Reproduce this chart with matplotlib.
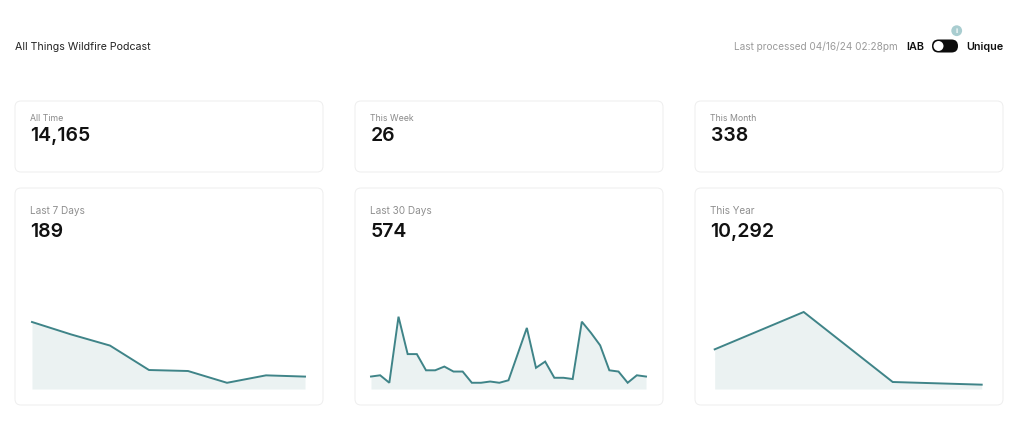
import matplotlib
matplotlib.use('Agg')
import matplotlib.pyplot as plt
from matplotlib.patches import FancyBboxPatch, Circle

plt.rcParams['font.family'] = ['Inter', 'DejaVu Sans']

# Dados
top_labels = ['All Time', 'This Week', 'This Month']
top_values = ['14,165', '26', '338']
chart_labels = ['Last 7 Days', 'Last 30 Days', 'This Year']
chart_totals = ['189', '574', '10,292']

last_7_days = [54, 44, 35, 15.3, 14.5, 5, 11, 10]
last_30_days = [10, 11, 5, 58, 28, 28, 15, 15, 18, 14, 14, 5, 5, 6, 5, 7, 28, 49, 17, 22,
                9, 9, 8, 54, 45, 35, 15, 14, 5, 11, 10]
this_year = [3189, 6191, 563, 349]
chart_series = [last_7_days, last_30_days, this_year]

W, H = 1024, 425
LINE = '#3f8488'
FILL = '#ebf2f2'
BORDER = '#efefef'

fig = plt.figure(figsize=(W / 100, H / 100), dpi=100, facecolor='white')

# camada de fundo em pixels
bg = fig.add_axes([0, 0, 1, 1])
bg.set_xlim(0, W)
bg.set_ylim(H, 0)
bg.axis('off')


def card(x0, y0, x1, y1):
    r = 6
    bg.add_patch(FancyBboxPatch((x0 + r, y0 + r), x1 - x0 - 2 * r, y1 - y0 - 2 * r,
                                boxstyle='round,pad=%d,rounding_size=%d' % (r, r),
                                fc='white', ec=BORDER, lw=0.75))


card_x = [(15, 323), (355, 663), (695, 1003)]
for (x0, x1), lab, val in zip(card_x, top_labels, top_values):
    card(x0, 101, x1, 172)
    bg.text(x0 + 15.5, 118.5, lab, fontsize=6.3, color='#8a8a8a', va='center')
    bg.text(x0 + 15.5, 136, val, fontsize=14, color='#111111', va='center', fontweight='semibold')

for (x0, x1), lab, val in zip(card_x, chart_labels, chart_totals):
    card(x0, 188, x1, 405)
    bg.text(x0 + 15.5, 210.5, lab, fontsize=7.2, color='#8f8f8f', va='center')
    bg.text(x0 + 15.5, 231.5, val, fontsize=14, color='#111111', va='center', fontweight='semibold')

# cabecalho
bg.text(15, 46.5, 'All Things Wildfire Podcast', fontsize=7.65, color='#222222', va='center')
bg.text(898, 46.5, 'Last processed 04/16/24 02:28pm', fontsize=7.2, color='#9a9a9a',
        va='center', ha='right')
bg.text(906, 46.5, 'IAB', fontsize=7.8, color='#111111', va='center', fontweight='semibold')
bg.text(966, 46.5, 'Unique', fontsize=7.8, color='#111111', va='center', fontweight='semibold')

# toggle
bg.add_patch(FancyBboxPatch((938.5, 46), 13, 0.01, boxstyle='round,pad=6.5,rounding_size=6.5',
                            fc='#0b0b0b', ec='none'))
bg.add_patch(Circle((938.5, 46), 5, fc='white', ec='none', zorder=3))
bg.add_patch(Circle((956.7, 30.7), 5.4, fc='#a9cdd0', ec='none'))
bg.text(956.7, 30.7, 'i', fontsize=5.5, color='white', ha='center', va='center', fontweight='bold')

# graficos: x inicial, x final, topo em pixels
chart_boxes = [(32, 305, 322), (371, 646, 316.7), (714.7, 981.7, 312)]
BASE = 389

for series, (x0, x1, top) in zip(chart_series, chart_boxes):
    ax = fig.add_axes([x0 / W, 1 - BASE / H, (x1 - x0) / W, (BASE - top) / H])
    xs = range(len(series))
    ax.fill_between(xs, series, 0, color=FILL, lw=0)
    ax.plot(xs, series, color=LINE, lw=1.4, solid_joinstyle='miter', clip_on=False)
    ax.set_xlim(0, len(series) - 1)
    ax.set_ylim(0, max(series))
    ax.axis('off')

fig.savefig('out.png', dpi=100, facecolor='white')
